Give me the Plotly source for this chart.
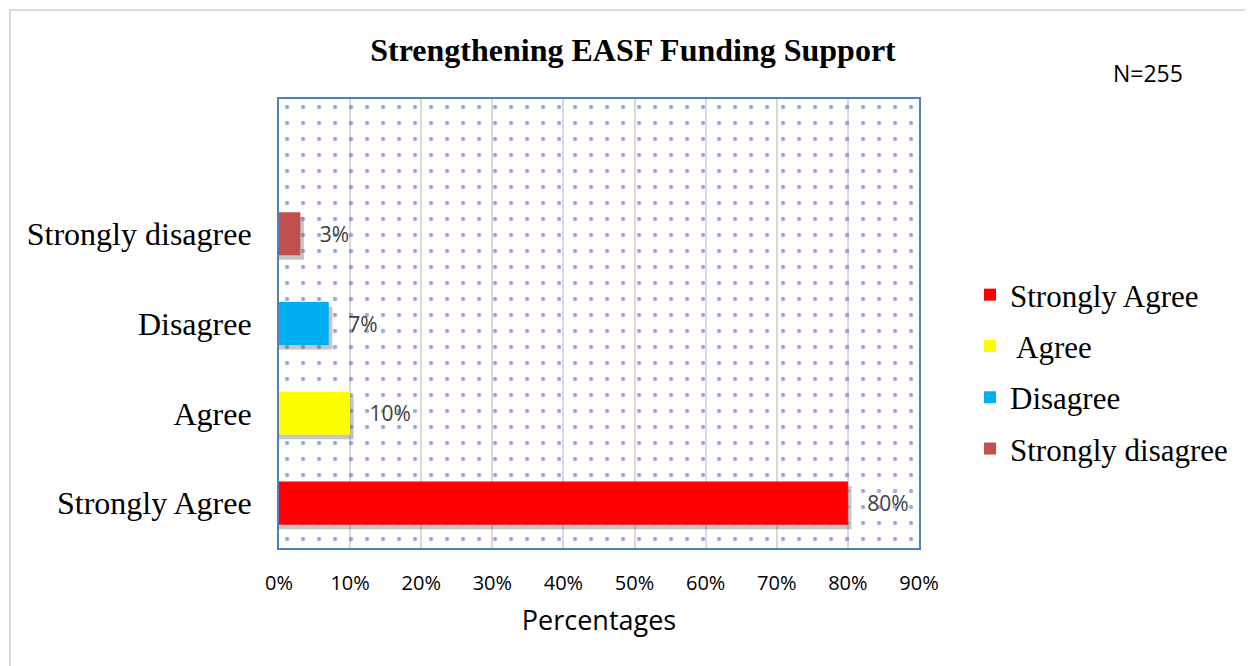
import plotly.graph_objects as go

categories = ["Strongly Agree", "Agree", "Disagree", "Strongly disagree"]
legend_names = ["Strongly Agree", " Agree", "Disagree", "Strongly disagree"]
values = [80, 10, 7, 3]
colors = ["#FF0000", "#FFFF00", "#00B0F0", "#C0504D"]
x_ticks = [0, 10, 20, 30, 40, 50, 60, 70, 80, 90]
x_range = [0, 90]
y_range = [-0.5, 4.5]

W, H = 1253, 666
OFF = 8  # page body margin
L, R, T, B = 271, 342, 91, 126
pw = W - L - R
ph = H - T - B


def px_x(px):
    return (px - OFF - L) / pw


def px_y(py):
    return (H - B - (py - OFF)) / ph


SERIF = "Liberation Serif, Times New Roman, serif"
SANS = "Open Sans, Liberation Sans, sans-serif"

fig = go.Figure()

# dotted plot-area background (pattern-filled bar spanning the whole area)
fig.add_trace(go.Bar(
    y=[(y_range[0] + y_range[1]) / 2], x=[x_range[1]], width=y_range[1] - y_range[0],
    orientation="h", showlegend=False, hoverinfo="skip",
    marker=dict(color="rgba(0,0,0,0)", line=dict(width=0),
                pattern=dict(shape=".", fgcolor="#3565B8", bgcolor="rgba(0,0,0,0)",
                             size=16, solidity=0.06, fillmode="overlay")),
))

# soft shadows under bars
for i, v in enumerate(values):
    fig.add_trace(go.Bar(
        y=[i - 0.05], x=[v + 0.5], orientation="h", width=0.48, showlegend=False,
        hoverinfo="skip", marker=dict(color="rgba(90,90,90,0.35)", line=dict(width=0)),
    ))

for i, (cat, name, v, c) in enumerate(zip(categories, legend_names, values, colors)):
    fig.add_trace(go.Bar(
        y=[i], x=[v], orientation="h", name=name, width=0.48,
        marker=dict(color=c, line=dict(width=0)),
        text=[f"   {v}%"], textposition="outside",
        textfont=dict(family=SANS, size=21, color="#404040"),
        legendgroup=name, cliponaxis=False,
    ))

fig.update_layout(
    width=W, height=H,
    paper_bgcolor="white", plot_bgcolor="white",
    margin=dict(l=L, r=R, t=T, b=B),
    title=dict(text="<b>Strengthening EASF Funding Support</b>", x=625 / W, xanchor="center",
               y=1 - 42 / H, yanchor="middle",
               font=dict(family=SERIF, size=32, color="black")),
    xaxis=dict(range=x_range, tickvals=x_ticks, ticktext=[f"{t}%" for t in x_ticks],
               showgrid=True, gridcolor="#D9D9D9", gridwidth=2, zeroline=False,
               tickfont=dict(family=SANS, size=20, color="black"),
               ticklabelstandoff=16,
               title=dict(text="Percentages", standoff=16,
                          font=dict(family=SANS, size=27, color="black")),
               showline=True, linecolor="#4F81BD", linewidth=2, mirror=True, ticks="", ticklen=0),
    yaxis=dict(range=y_range, tickvals=list(range(len(categories))), ticktext=categories,
               showgrid=False, zeroline=False,
               tickfont=dict(family=SERIF, size=32, color="black"),
               showline=True, linecolor="#4F81BD", linewidth=2, mirror=True, ticks="", ticklen=0,
               ticklabelstandoff=19),
    legend=dict(x=px_x(970), xanchor="left", y=px_y(372), yanchor="middle", traceorder="grouped",
                tracegroupgap=8, font=dict(family=SERIF, size=31, color="black"),
                bgcolor="rgba(0,0,0,0)"),
    barmode="overlay",
    showlegend=True,
    annotations=[dict(text="N=255", x=px_x(1148), y=px_y(73), xref="paper", yref="paper",
                      xanchor="center", yanchor="middle", showarrow=False,
                      font=dict(family=SANS, size=23, color="black"))],
    shapes=[dict(type="rect", xref="paper", yref="paper", x0=px_x(10), y0=px_y(720),
                 x1=px_x(1300), y1=px_y(10),
                 line=dict(color="#D9D9D9", width=2), fillcolor="rgba(0,0,0,0)", layer="below")],
)

fig.write_html("out.html")
